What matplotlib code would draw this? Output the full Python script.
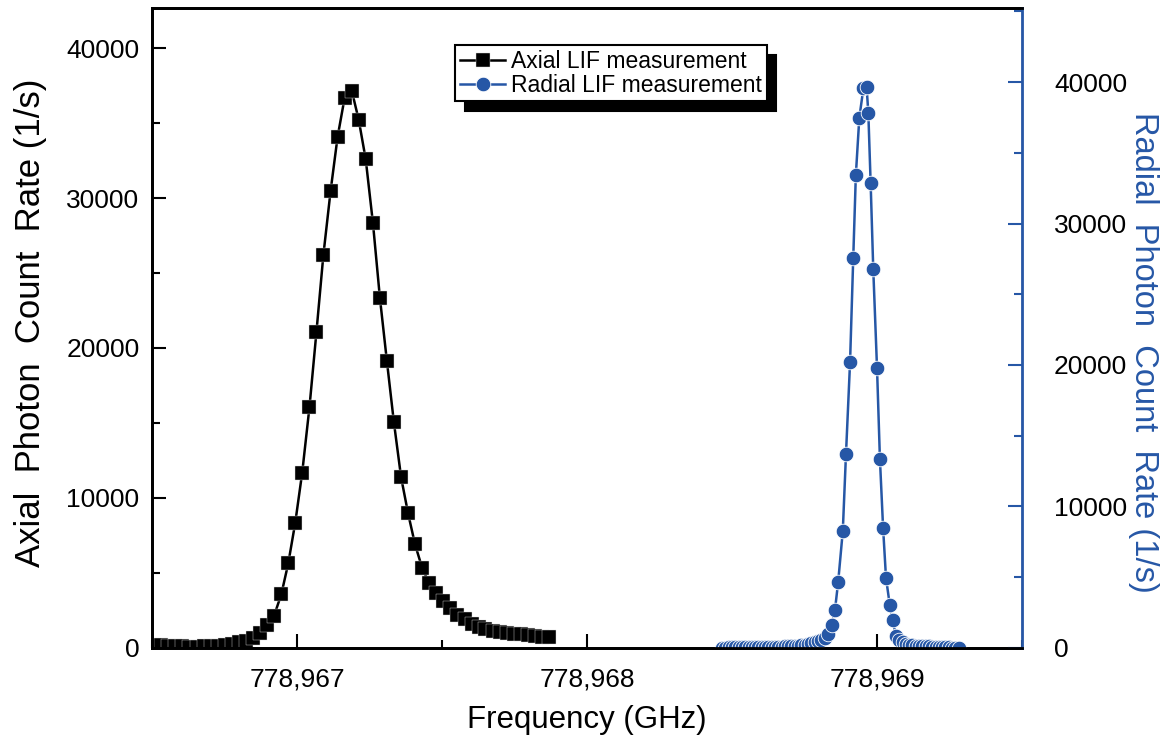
import numpy as np
import matplotlib
matplotlib.use("agg")
import matplotlib.pyplot as plt
from matplotlib.ticker import MultipleLocator, FuncFormatter

# ------------------------------------------------------
#                   Data
# ------------------------------------------------------
f_base = 778966.0  # GHz, offsets below are in MHz

axial_df_mhz = [508, 532, 556, 581, 605, 629, 654, 678, 702, 727,
                751, 775, 800, 824, 848, 873, 897, 921, 946, 970,
                994, 1018, 1043, 1067, 1091, 1116, 1140, 1164, 1189, 1213,
                1237, 1262, 1286, 1310, 1334, 1359, 1383, 1407, 1432, 1456,
                1480, 1505, 1529, 1553, 1578, 1602, 1626, 1650, 1675, 1699,
                1723, 1748, 1772, 1796, 1821, 1845, 1869]
axial_counts = [160, 180, 160, 130, 100, 90, 90, 100, 120, 160,
                210, 280, 370, 480, 670, 1000, 1530, 2150, 3580, 5650,
                8350, 11690, 16050, 21050, 26200, 30490, 34070, 36650, 37150, 35200,
                32580, 28310, 23330, 19130, 15070, 11380, 8980, 6910, 5310, 4310,
                3650, 3130, 2650, 2200, 1900, 1600, 1400, 1250, 1150, 1050,
                1000, 950, 900, 850, 800, 750, 700]

radial_df_mhz = [2466, 2477, 2489, 2500, 2512, 2523, 2534, 2546, 2557, 2568,
                 2580, 2591, 2603, 2614, 2625, 2637, 2648, 2660, 2671, 2682,
                 2694, 2705, 2716, 2728, 2739, 2751, 2762, 2773, 2785, 2796,
                 2807, 2819, 2830, 2844, 2855, 2866, 2882, 2893, 2907, 2918,
                 2927, 2939, 2953, 2964, 2970, 2978, 2987, 3000, 3010, 3021,
                 3031, 3044, 3054, 3065, 3077, 3088, 3099, 3111, 3122, 3134,
                 3145, 3156, 3168, 3179, 3190, 3202, 3213, 3225, 3236, 3247,
                 3259, 3270, 3281]
radial_counts = [30, 30, 35, 40, 40, 45, 50, 50, 55, 60,
                 60, 65, 70, 75, 80, 85, 90, 95, 100, 110,
                 115, 125, 135, 150, 175, 210, 260, 330, 400, 480,
                 560, 700, 1000, 1625, 2685, 4660, 8270, 13710, 20180, 27560,
                 33430, 37480, 39550, 39670, 37830, 32860, 26780, 19790, 13360, 8460,
                 4950, 3040, 1980, 850, 550, 400, 300, 230, 190, 160,
                 140, 125, 115, 105, 95, 85, 75, 65, 50, 35,
                 20, 10, 0]

x_ticks = [778967, 778968, 778969]
y_left_ticks = [0, 10000, 20000, 30000, 40000]
y_right_ticks = [0, 10000, 20000, 30000, 40000]

axial_freq = f_base + np.array(axial_df_mhz) / 1000.0
radial_freq = f_base + np.array(radial_df_mhz) / 1000.0

# ------------------------------------------------------
#                   Plot
# ------------------------------------------------------
plt.rcParams['font.family'] = ['Liberation Sans', 'DejaVu Sans']
blue = '#2657a6'

fig = plt.figure(figsize=(11.61, 7.43), dpi=100)
ax = fig.add_axes([0.1309, 0.1279, 0.7494, 0.8613])
ax2 = ax.twinx()

l1, = ax.plot(axial_freq, axial_counts, color='k', lw=1.8, marker='s', ms=9.5,
              mec='#dddddd', mew=0.3, label='Axial LIF measurement')
l2, = ax2.plot(radial_freq, radial_counts, color=blue, lw=1.8, marker='o', ms=10.5,
               mec='white', mew=0.6, label='Radial LIF measurement')

ax.set_xlim(778966.5, 778969.5)
ax.set_ylim(0, 42667)
ax2.set_ylim(0, 45230)

ax.set_xticks(x_ticks)
ax.xaxis.set_minor_locator(MultipleLocator(0.5))
ax.xaxis.set_major_formatter(FuncFormatter(lambda v, p: f"{v:,.0f}"))
ax.set_yticks(y_left_ticks)
ax.yaxis.set_minor_locator(MultipleLocator(5000))
ax2.set_yticks(y_right_ticks)
ax2.yaxis.set_minor_locator(MultipleLocator(5000))

ax.tick_params(which='both', direction='in', width=1.5, labelsize=19, top=False, right=False)
ax.tick_params(which='major', length=10)
ax.tick_params(which='minor', length=5.5)
ax.tick_params(axis='x', pad=14)
ax.tick_params(axis='y', pad=9)
ax2.tick_params(which='both', direction='in', width=1.5, color=blue, labelsize=19, labelcolor='k')
ax2.tick_params(which='major', length=10, pad=23)
ax2.tick_params(which='minor', length=5.5)

for s in ['left', 'bottom', 'top']:
    ax.spines[s].set_linewidth(2)
    ax2.spines[s].set_linewidth(2)
ax2.spines['right'].set_color(blue)
ax2.spines['right'].set_linewidth(2)

ax.set_xlabel('Frequency (GHz)', fontsize=22.5, labelpad=10)
ax.set_ylabel('Axial  Photon  Count  Rate (1/s)', fontsize=25)
ax.yaxis.set_label_coords(-0.121, 0.508)
ax2.set_ylabel('Radial  Photon  Count  Rate (1/s)', fontsize=23.5, color=blue, rotation=270)
ax2.yaxis.set_label_coords(1.157, 0.462)

leg = ax2.legend([l1, l2], ['Axial LIF measurement', 'Radial LIF measurement'],
                 loc='upper left', bbox_to_anchor=(455 / 1161, 1 - 45 / 743),
                 bbox_transform=fig.transFigure, prop={'size': 16.5},
                 frameon=True, fancybox=False, framealpha=1, edgecolor='k',
                 shadow={'color': 'k', 'alpha': 1, 'ox': 7, 'oy': -7},
                 handlelength=2.0, handletextpad=0.25, borderpad=0.2,
                 labelspacing=0.05, borderaxespad=0)
leg.get_frame().set_linewidth(1.5)

fig.savefig('out.png', dpi=100)
